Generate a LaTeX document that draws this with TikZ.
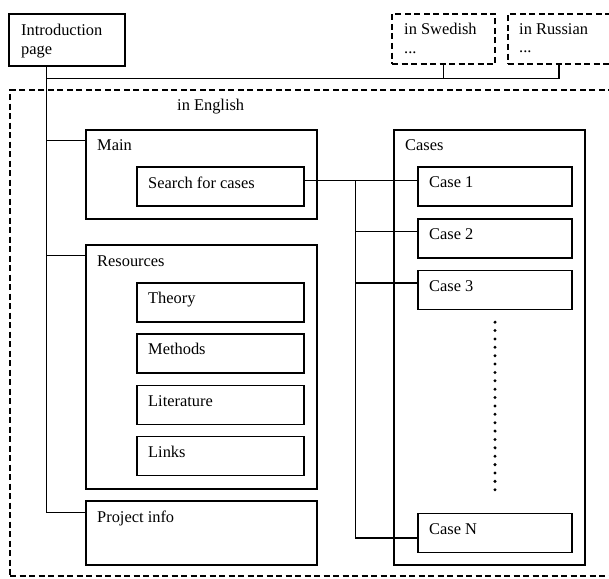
\documentclass[tikz,border=0pt]{standalone}
\usepackage{fontspec}
\setmainfont{Liberation Serif}

\tikzset{
    pagebox/.style={shape=rectangle,draw,line width=2.5pt,inner sep=0pt},
    subbox/.style={shape=rectangle,draw,line width=1.3pt,inner sep=0pt},
    langbox/.style={shape=rectangle,draw,line width=1.3pt,dash pattern=on 6pt off 3.5pt,inner sep=0pt},
    pagetext/.style={inner sep=0pt,font=\fontsize{16.4}{18.5}\selectfont},
    link/.style={line width=1.3pt},
    casedots/.style={line width=3.3pt,line cap=round,dash pattern=on 0pt off 8.38pt}
}

\begin{document}
\begin{tikzpicture}[x=1pt,y=-1pt]
    \useasboundingbox (0,0) rectangle (609,578);

    % top level
    \node[pagebox,minimum width=116,minimum height=52] (intro) at (67,40) {};
    \node[langbox,minimum width=103,minimum height=50] (swedish) at (443.5,39) {};
    \node[langbox,minimum width=112,minimum height=50] (russian) at (564,39) {};
    \node[pagetext,align=left,anchor=north west] (intro-t) at (21,24) {Introduction\\page};
    \node[pagetext,align=left,anchor=north west] (swedish-t) at (404,23) {in Swedish\\...};
    \node[pagetext,align=left,anchor=north west] (russian-t) at (519,23) {in Russian\\...};

    % english site
    \node[langbox,minimum width=610,minimum height=486] (english) at (315,333) {};
    \node[pagetext,anchor=base west] (english-t) at (177,110) {in English};

    \node[pagebox,minimum width=231,minimum height=89] (main) at (201.5,174.5) {};
    \node[subbox,minimum width=167,minimum height=39] (search) at (220.5,186.5) {};
    \node[pagetext,anchor=base west] (main-t) at (97,150) {Main};
    \node[pagetext,anchor=base west] (search-t) at (148,188) {Search for cases};

    \node[pagebox,minimum width=231,minimum height=244] (resources) at (201.5,367) {};
    \node[subbox,minimum width=167,minimum height=39] (theory) at (220.5,302.5) {};
    \node[subbox,minimum width=167,minimum height=39] (methods) at (220.5,353.5) {};
    \node[subbox,minimum width=167,minimum height=39] (literature) at (220.5,405) {};
    \node[subbox,minimum width=167,minimum height=39] (links) at (220.5,456) {};
    \node[pagetext,anchor=base west] (resources-t) at (97,266) {Resources};
    \node[pagetext,anchor=base west] (theory-t) at (148,303) {Theory};
    \node[pagetext,anchor=base west] (methods-t) at (148,354) {Methods};
    \node[pagetext,anchor=base west] (literature-t) at (148,406) {Literature};
    \node[pagetext,anchor=base west] (links-t) at (148,457) {Links};

    \node[pagebox,minimum width=231,minimum height=64] (project) at (201.5,533) {};
    \node[pagetext,anchor=base west] (project-t) at (97,522) {Project info};

    \node[pagebox,minimum width=191,minimum height=435] (cases) at (489.5,347.5) {};
    \node[subbox,minimum width=154,minimum height=39] (case1) at (495,186.5) {};
    \node[subbox,minimum width=154,minimum height=39] (case2) at (495,238.5) {};
    \node[subbox,minimum width=154,minimum height=39] (case3) at (495,290) {};
    \node[subbox,minimum width=154,minimum height=39] (casen) at (495,533) {};
    \node[pagetext,anchor=base west] (cases-t) at (405,150) {Cases};
    \node[pagetext,anchor=base west] (case1-t) at (429,187) {Case 1};
    \node[pagetext,anchor=base west] (case2-t) at (429,239) {Case 2};
    \node[pagetext,anchor=base west] (case3-t) at (429,291) {Case 3};
    \node[pagetext,anchor=base west] (casen-t) at (429,534) {Case N};

    \draw[casedots] ([yshift=-12pt]case3.south) to ([yshift=17pt]casen.north);

    % connectors
    \coordinate (trunk) at ([xshift=39pt]intro.south west);
    \coordinate (bus) at ([yshift=-11pt]trunk);
    \coordinate (russian-in) at ([xshift=-5pt]russian.south);
    \coordinate (main-in) at ([yshift=-12pt]main.north west);
    \coordinate (resources-in) at ([yshift=-12pt]resources.north west);
    \coordinate (project-in) at ([yshift=-13pt]project.north west);
    \coordinate (search-out) at ([yshift=-14pt]search.north east);
    \coordinate (hub) at ([xshift=51pt]search-out);
    \coordinate (case2-in) at ([yshift=-13pt]case2.north west);
    \coordinate (case3-in) at ([yshift=-13pt]case3.north west);
    \coordinate (casen-in) at ([yshift=-25pt]casen.north west);

    \draw[link] (trunk) |- (project-in);
    \draw[link] (bus) -| (russian-in);
    \draw[link] (swedish.south) to (swedish.south |- bus);
    \draw[link] (main-in) to (main-in -| trunk);
    \draw[link] (resources-in) to (resources-in -| trunk);

    \draw[link] (search-out) to (search-out -| case1.west);
    \draw[link] (hub) |- (casen-in);
    \draw[link] (case2-in) to (case2-in -| hub);
    \draw[link] (case3-in) to (case3-in -| hub);

\end{tikzpicture}
\end{document}
